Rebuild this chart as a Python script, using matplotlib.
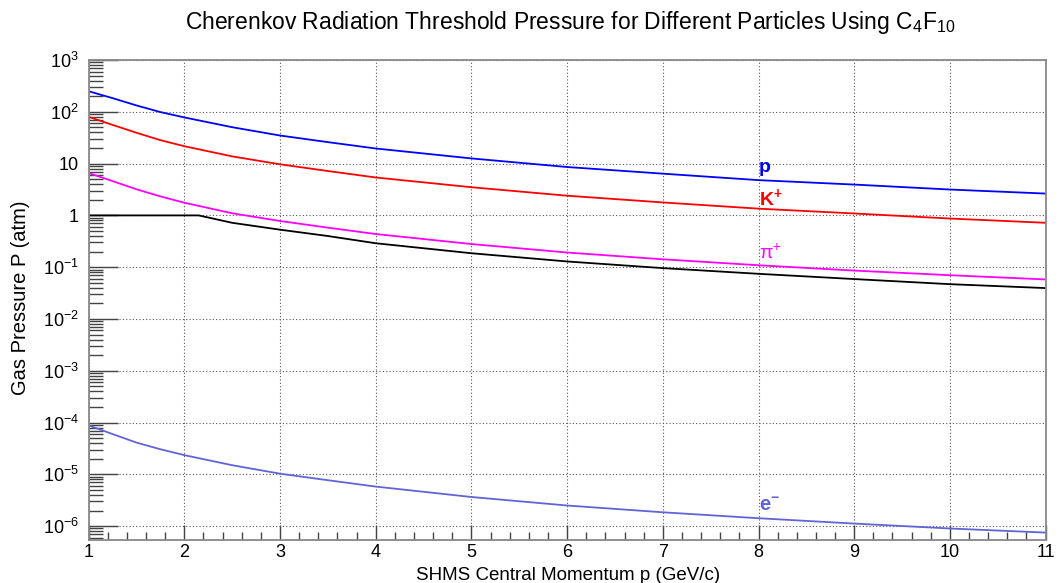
import numpy as np
import matplotlib
matplotlib.use("Agg")
import matplotlib.pyplot as plt
from matplotlib.ticker import FixedLocator, LogLocator, MultipleLocator, NullFormatter

plt.rcParams['font.family'] = ['Liberation Sans', 'DejaVu Sans']
plt.rcParams['mathtext.fontset'] = 'custom'
plt.rcParams['mathtext.rm'] = 'Liberation Sans'
plt.rcParams['mathtext.it'] = 'Liberation Sans:italic'
plt.rcParams['mathtext.bf'] = 'Liberation Sans:bold'

# momentum (GeV/c)
mom = [1.0, 1.25, 1.5, 1.75, 2.0, 2.5, 3.0, 3.5, 4.0, 5.0, 6.0, 7.0, 8.0, 9.0, 10.0, 11.0]

# threshold pressure (atm)
p_proton = [250, 184, 133, 99, 78, 50.5, 34.9, 26.0, 19.6, 12.6, 8.6, 6.4, 4.8, 3.94, 3.16, 2.64]
p_kaon = [80, 56, 39.5, 28.4, 21.7, 13.8, 9.7, 7.2, 5.4, 3.5, 2.4, 1.78, 1.35, 1.09, 0.87, 0.72]
p_pion = [6.6, 4.6, 3.2, 2.33, 1.76, 1.1, 0.78, 0.58, 0.437, 0.28, 0.192, 0.142, 0.109,
          0.086, 0.070, 0.058]
p_electron = [8.8e-5, 6.0e-5, 4.1e-5, 3.05e-5, 2.35e-5, 1.5e-5, 1.03e-5, 7.7e-6, 5.8e-6,
              3.65e-6, 2.5e-6, 1.85e-6, 1.42e-6, 1.12e-6, 9.0e-7, 7.5e-7]

# black curve: limited to 1 atm at low momentum
mom_max = [1.0, 2.15, 2.5, 3.0, 3.5, 4.0, 5.0, 6.0, 7.0, 8.0, 9.0, 10.0, 11.0]
p_max = [1.0, 1.0, 0.72, 0.53, 0.40, 0.29, 0.186, 0.129, 0.096, 0.0745, 0.059, 0.047, 0.0395]

ytick_vals = [1e-6, 1e-5, 1e-4, 1e-3, 1e-2, 1e-1, 1, 10, 1e2, 1e3]
ytick_labels = ['10$^{-6}$', '10$^{-5}$', '10$^{-4}$', '10$^{-3}$', '10$^{-2}$',
                '10$^{-1}$', '1', '10', '10$^{2}$', '10$^{3}$']

fig = plt.figure(figsize=(10.61, 5.83), dpi=100)
ax = fig.add_axes([0.0835, 0.0738, 0.902, 0.8232])

ax.plot(mom, p_proton, color='#0000ff', lw=1.3)
ax.plot(mom, p_kaon, color='#ff0000', lw=1.3)
ax.plot(mom, p_pion, color='#ff00ff', lw=1.3)
ax.plot(mom_max, p_max, color='black', lw=1.3)
ax.plot(mom, p_electron, color='#6363d8', lw=1.3)

ax.set_yscale('log')
ax.set_xlim(1, 11)
ax.set_ylim(5.4e-7, 1e3)

ax.yaxis.set_major_locator(FixedLocator(ytick_vals))
ax.set_yticklabels(ytick_labels)
ax.yaxis.set_minor_locator(LogLocator(base=10, subs=np.arange(2, 10), numticks=30))
ax.yaxis.set_minor_formatter(NullFormatter())
ax.xaxis.set_major_locator(MultipleLocator(1))
ax.xaxis.set_minor_locator(MultipleLocator(0.2))

ax.tick_params(axis='y', which='major', direction='in', length=21, width=1, color='#444444',
               labelsize=13, pad=7)
ax.tick_params(axis='y', which='minor', direction='in', length=10, width=1, color='#444444')
ax.tick_params(axis='x', which='major', direction='in', length=11, width=1, color='#444444',
               labelsize=13, pad=3)
ax.tick_params(axis='x', which='minor', direction='in', length=5.5, width=1, color='#444444')

ax.grid(True, which='major', color='#555555', linestyle=(0, (1, 2)), lw=0.8)
for s in ax.spines.values():
    s.set_color('#888888')
    s.set_linewidth(1.3)

# particle labels
ax.text(8, 6.8, 'p', color='#0000ff', fontsize=14, fontweight='bold', va='baseline')
ax.text(8, 1.57, r'$\mathbf{K}^{\mathbf{+}}$', color='#ff0000', fontsize=14, va='baseline')
ax.text(8, 0.148, r'π$^{+}$', color='#ff00ff', fontsize=14, va='baseline')
ax.text(8, 1.92e-6, r'$\mathbf{e}^{\mathbf{-}}$', color='#6363d8', fontsize=14.5, va='baseline')

fig.text(0.537, 0.962, r'Cherenkov Radiation Threshold Pressure for Different Particles Using C$_{4}$F$_{10}$',
         ha='center', va='center', fontsize=16.5)
fig.text(0.535, 0.0125, 'SHMS Central Momentum p (GeV/c)', ha='center', va='center', fontsize=13.5)
fig.text(0.019, 0.49, 'Gas Pressure P (atm)', ha='center', va='center', rotation=90, fontsize=14.5)

fig.savefig('out.png', dpi=100)
